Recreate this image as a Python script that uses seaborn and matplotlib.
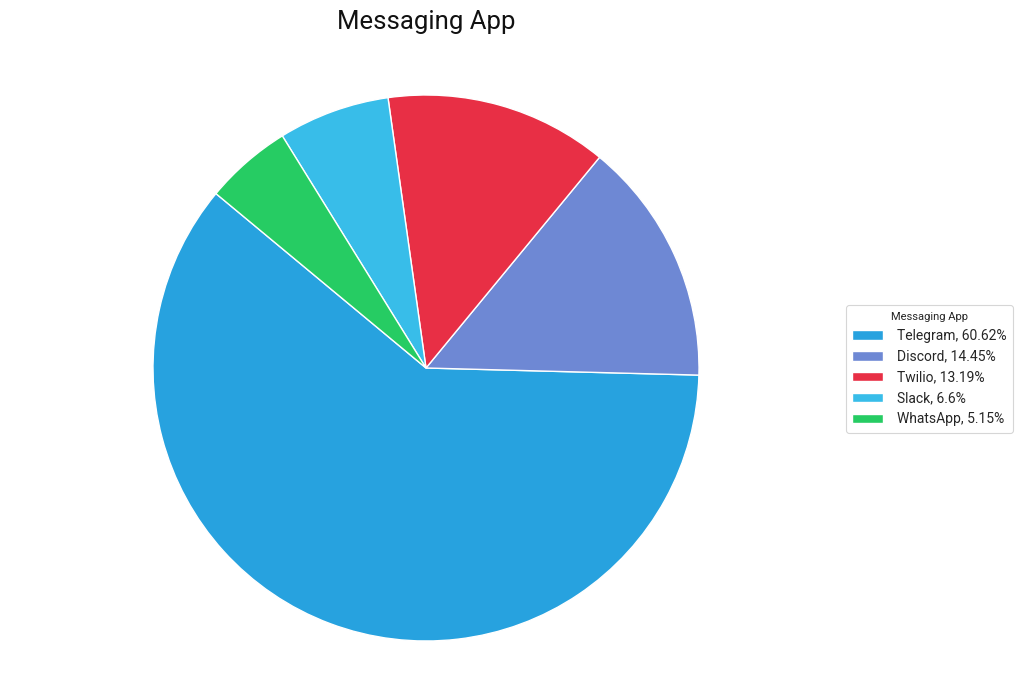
import matplotlib
matplotlib.use('Agg')
import matplotlib.pyplot as plt
import seaborn as sns

# Data
apps = ['Telegram', 'Discord', 'Twilio', 'Slack', 'WhatsApp']
shares = [60.62, 14.45, 13.19, 6.6, 5.15]
colors = ['#27a2df', '#6e88d4', '#e82f45', '#38bde9', '#26cc63']

sns.set_theme(style='white')
plt.rcParams['font.family'] = ['Roboto', 'DejaVu Sans']

W, H = 1024, 683
fig = plt.figure(figsize=(W / 100, H / 100), dpi=100)

# pie placement in pixels: centre (426, 368), radius 273
cx, cy, r = 426, 368, 273
ax = fig.add_axes([(cx - r) / W, (H - cy - r) / H, 2 * r / W, 2 * r / H])

wedges, _ = ax.pie(shares, colors=colors, startangle=140.3, counterclock=True,
                   wedgeprops=dict(edgecolor='white', linewidth=1))
ax.set_xlim(-1, 1)
ax.set_ylim(-1, 1)
ax.axis('off')

fig.text(cx / W, 1 - 22 / H, 'Messaging App', ha='center', va='center',
         fontsize=18.5, color='#111111')

labels = [f'{a}, {s:g}%' for a, s in zip(apps, shares)]
leg = fig.legend(wedges, labels, title='Messaging App', loc='center left',
                 bbox_to_anchor=(839 / W, 1 - 369 / H), fontsize=10,
                 title_fontsize=8, frameon=True, handlelength=2.2,
                 handleheight=0.7, handletextpad=1.0, labelspacing=0.5,
                 borderpad=0.45, fancybox=True)
leg.get_frame().set_edgecolor('#cccccc')
leg.get_frame().set_linewidth(0.8)

fig.savefig('out.png', dpi=100, facecolor='white')
